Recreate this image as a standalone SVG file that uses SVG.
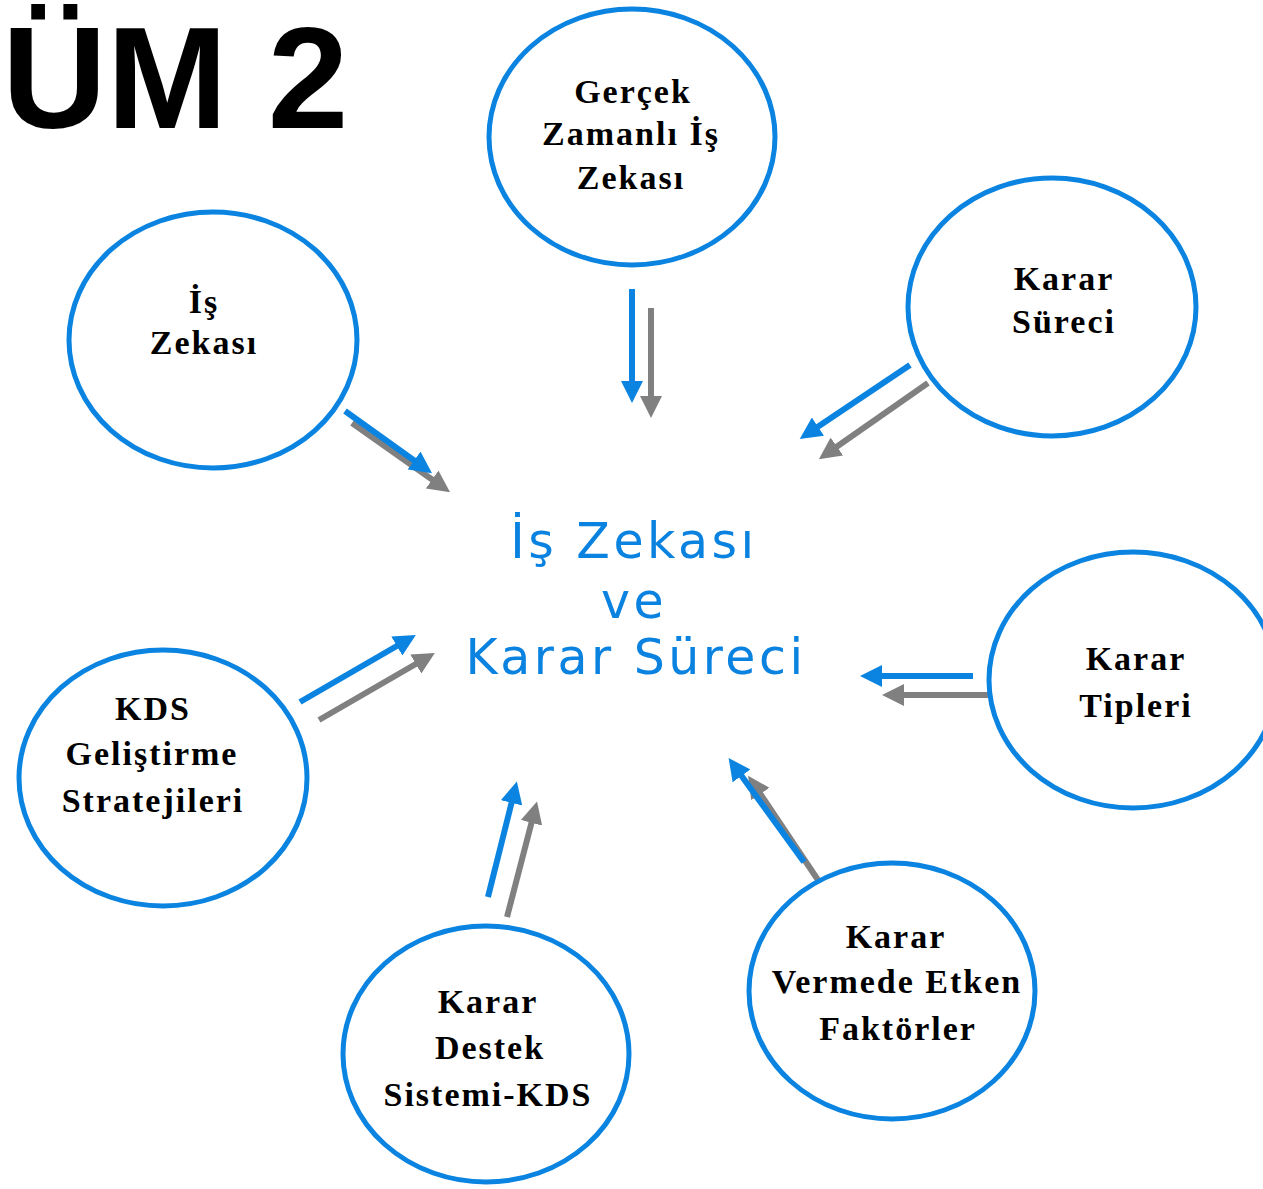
<svg xmlns="http://www.w3.org/2000/svg" width="1263" height="1189" viewBox="0 0 1263 1189">
<style>
.c{fill:#fff;stroke:#0a84e0;stroke-width:5}
.t{font-family:"Liberation Serif","Times New Roman",serif;font-weight:bold;font-size:34px;letter-spacing:2px;text-anchor:middle;fill:#000}
.m{font-family:"DejaVu Sans",Verdana,sans-serif;font-size:49px;letter-spacing:3.5px;text-anchor:middle;fill:#0a82e0}
.b{stroke:#0a84e0;stroke-width:6;fill:none;marker-end:url(#hb)}
.g{stroke:#808080;stroke-width:6;fill:none;marker-end:url(#hg)}
</style>
<defs>
<marker id="hb" markerUnits="userSpaceOnUse" viewBox="0 0 22 22" markerWidth="22" markerHeight="22" refX="6" refY="11" orient="auto"><path d="M0,0 L22,11 L0,22 z" fill="#0a84e0"/></marker>
<marker id="hg" markerUnits="userSpaceOnUse" viewBox="0 0 22 22" markerWidth="22" markerHeight="22" refX="6" refY="11" orient="auto"><path d="M0,0 L22,11 L0,22 z" fill="#808080"/></marker>
</defs>
<rect width="1263" height="1189" fill="#fff"/>
<text x="2" y="128" font-family="Liberation Sans, Arial, sans-serif" font-weight="bold" font-size="145">ÜM 2</text>

<g id="connectors">
<line class="b" x1="632" y1="289" x2="632" y2="387"/>
<line class="g" x1="651" y1="308" x2="651" y2="402"/>
<line class="b" x1="910" y1="365" x2="813" y2="430"/>
<line class="g" x1="928" y1="383" x2="832" y2="450"/>
<line class="g" x1="352" y1="423" x2="437" y2="483"/>
<line class="b" x1="345" y1="411" x2="419" y2="464"/>
<line class="b" x1="300" y1="702" x2="402" y2="643"/>
<line class="g" x1="319" y1="720" x2="421" y2="661"/>
<line class="b" x1="973" y1="676" x2="876" y2="676"/>
<line class="g" x1="990" y1="695" x2="898" y2="695"/>
<line class="b" x1="488" y1="897" x2="513" y2="797"/>
<line class="g" x1="507" y1="917" x2="533" y2="817"/>
<line class="g" x1="818" y1="880" x2="757" y2="789"/>
<line class="b" x1="804" y1="862" x2="738" y2="771"/>
</g>

<g id="n-gercek"><ellipse class="c" cx="632" cy="137" rx="143" ry="128"/>
<text class="t" x="633" y="103">Gerçek</text><text class="t" x="631" y="145">Zamanlı İş</text><text class="t" x="631" y="189">Zekası</text></g>

<g id="n-kararsureci"><ellipse class="c" cx="1052" cy="307" rx="144" ry="129"/>
<text class="t" x="1064" y="290">Karar</text><text class="t" x="1064" y="333">Süreci</text></g>

<g id="n-iszekasi"><ellipse class="c" cx="213" cy="340" rx="144" ry="128"/>
<text class="t" x="204" y="313">İş</text><text class="t" x="204" y="354">Zekası</text></g>

<g id="n-tipleri"><ellipse class="c" cx="1133" cy="680" rx="144" ry="128"/>
<text class="t" x="1136" y="670">Karar</text><text class="t" x="1136" y="717">Tipleri</text></g>

<g id="n-kds-gelistirme"><ellipse class="c" cx="163" cy="778" rx="144" ry="128"/>
<text class="t" x="153" y="720">KDS</text><text class="t" x="152" y="765">Geliştirme</text><text class="t" x="153" y="812">Stratejileri</text></g>

<g id="n-kds"><ellipse class="c" cx="486" cy="1054" rx="143" ry="128"/>
<text class="t" x="488" y="1013">Karar</text><text class="t" x="490" y="1059">Destek</text><text class="t" x="488" y="1106">Sistemi-KDS</text></g>

<g id="n-etken"><ellipse class="c" cx="892" cy="991" rx="143" ry="128"/>
<text class="t" x="896" y="948">Karar</text><text class="t" x="897" y="993">Vermede Etken</text><text class="t" x="898" y="1040">Faktörler</text></g>

<g id="center">
<text class="m" x="634" y="558">İş Zekası</text>
<text class="m" x="634" y="618">ve</text>
<text class="m" x="636" y="674">Karar Süreci</text>
</g>
</svg>
